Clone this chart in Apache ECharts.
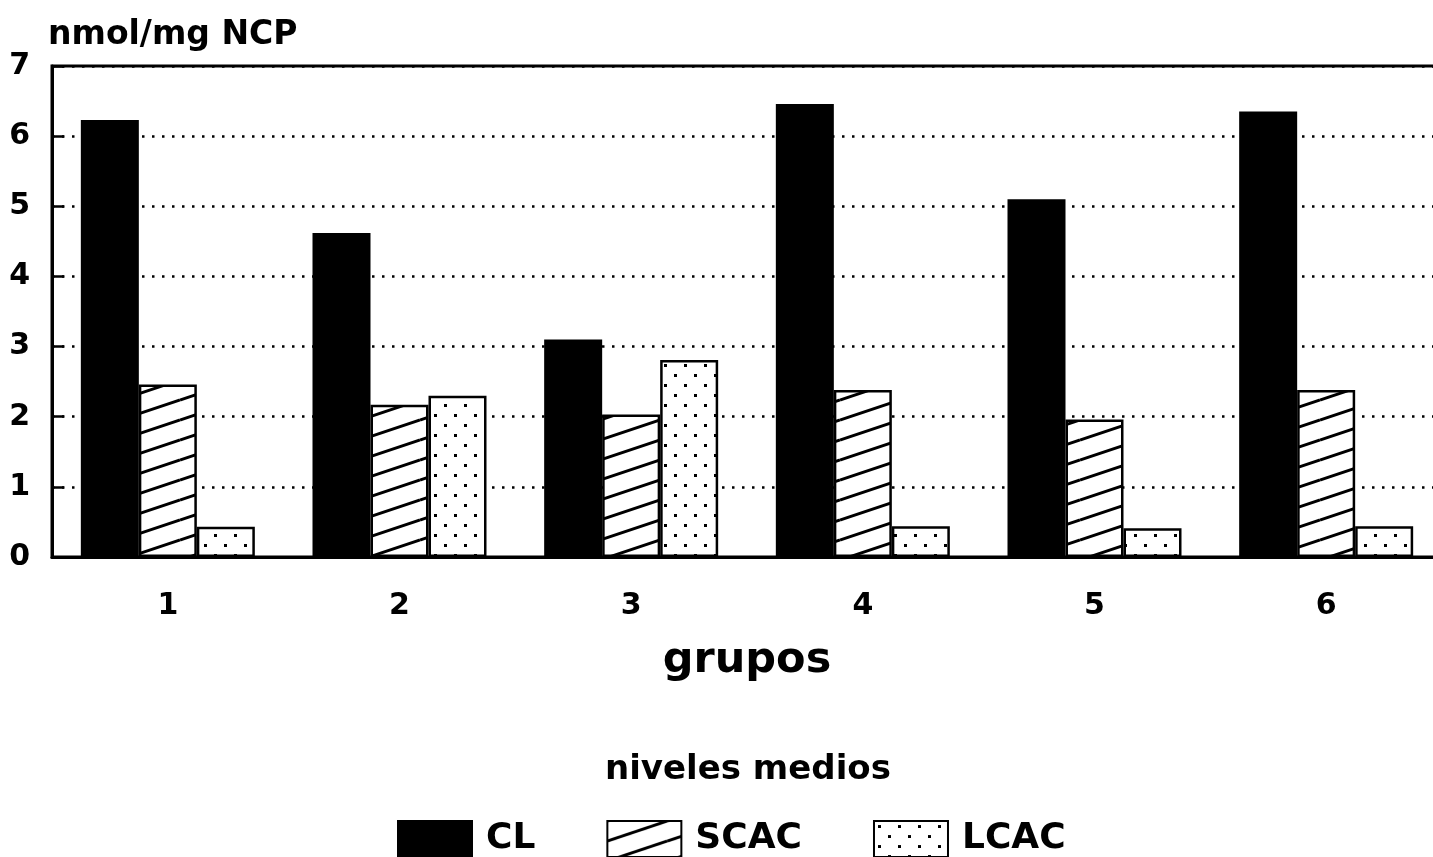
<!DOCTYPE html>
<html>
<head>
<meta charset="utf-8">
<title>niveles medios</title>
<script src="https://cdn.jsdelivr.net/npm/echarts@6.0.0/dist/echarts.min.js"></script>
<style>
  html, body { margin: 0; padding: 0; background: #fff; }
  #chart { width: 1433px; height: 857px; }
</style>
</head>
<body>
<div id="chart"></div>
<script>
const groups = ['1', '2', '3', '4', '5', '6'];
const seriesNames = ['CL', 'SCAC', 'LCAC'];
const clValues = [6.23, 4.62, 3.10, 6.46, 5.10, 6.35];
const scacValues = [2.46, 2.17, 2.03, 2.38, 1.96, 2.38];
const lcacValues = [0.43, 2.30, 2.81, 0.44, 0.41, 0.44];
const yTicks = [0, 1, 2, 3, 4, 5, 6, 7];

const fontFamily = 'DejaVu Sans';

function makeHatchPattern() {
  const canvas = document.createElement('canvas');
  canvas.width = 60;
  canvas.height = 20;
  const ctx = canvas.getContext('2d');
  ctx.fillStyle = '#fff';
  ctx.fillRect(0, 0, 60, 20);
  ctx.strokeStyle = '#000';
  ctx.lineWidth = 3;
  // diagonal rising to the right, repeated above and below so the tile joins up
  [-20, 0, 20].forEach((dy) => {
    ctx.beginPath();
    ctx.moveTo(0, 20 + dy);
    ctx.lineTo(60, dy);
    ctx.stroke();
  });
  return canvas;
}

function makeDotPattern() {
  const canvas = document.createElement('canvas');
  canvas.width = 20;
  canvas.height = 20;
  const ctx = canvas.getContext('2d');
  ctx.fillStyle = '#fff';
  ctx.fillRect(0, 0, 20, 20);
  ctx.fillStyle = '#000';
  ctx.fillRect(4, 4, 3, 3);
  ctx.fillRect(14, 14, 3, 3);
  return canvas;
}

function makeBarSeries(name, values, fill) {
  return {
    name: name,
    type: 'bar',
    data: values,
    barWidth: 58,
    barGap: '0%',
    itemStyle: {
      color: fill,
      borderColor: '#000',
      borderWidth: 2.5
    },
    emphasis: { disabled: true }
  };
}

const chart = echarts.init(document.getElementById('chart'));

const option = {
  backgroundColor: '#fff',
  animation: false,
  title: {
    text: 'niveles medios',
    left: 600,
    top: 748,
    textStyle: {
      fontFamily: fontFamily,
      fontWeight: 'bold',
      fontSize: 34,
      color: '#000'
    }
  },
  legend: {
    data: seriesNames.map((name) => ({ name: name, icon: 'rect' })),
    left: 392,
    top: 815,
    itemWidth: 74,
    itemHeight: 36,
    itemGap: 71,
    selectedMode: false,
    textStyle: {
      fontFamily: fontFamily,
      fontWeight: 'bold',
      fontSize: 36,
      color: '#000',
      padding: [0, 0, 0, 9]
    }
  },
  grid: {
    left: 52,
    top: 66,
    width: 1390,
    height: 491,
    containLabel: false,
    outerBoundsMode: 'none',
    show: true,
    borderColor: '#000',
    borderWidth: 3
  },
  xAxis: {
    type: 'category',
    data: groups,
    z: 5,
    name: 'grupos',
    nameLocation: 'middle',
    nameGap: 82,
    nameTextStyle: {
      fontFamily: fontFamily,
      fontWeight: 'bold',
      fontSize: 43,
      color: '#000'
    },
    axisLine: { lineStyle: { color: '#000', width: 3 } },
    axisTick: {
      inside: true,
      alignWithLabel: true,
      length: 17,
      lineStyle: { color: '#000', width: 2.5 }
    },
    axisLabel: {
      margin: 34,
      fontFamily: fontFamily,
      fontWeight: 'bold',
      fontSize: 30,
      color: '#000'
    },
    splitLine: { show: false }
  },
  yAxis: {
    type: 'value',
    min: yTicks[0],
    max: yTicks[yTicks.length - 1],
    interval: 1,
    name: 'nmol/mg NCP',
    nameLocation: 'end',
    nameGap: 14,
    nameTextStyle: {
      fontFamily: fontFamily,
      fontWeight: 'bold',
      fontSize: 33,
      color: '#000',
      align: 'left',
      padding: [0, 0, 0, -4]
    },
    axisLine: { show: true, lineStyle: { color: '#000', width: 3 } },
    axisTick: {
      show: true,
      inside: true,
      length: 12,
      lineStyle: { color: '#000', width: 2.5 }
    },
    axisLabel: {
      margin: 22,
      fontFamily: fontFamily,
      fontWeight: 'bold',
      fontSize: 30,
      color: '#000'
    },
    splitLine: {
      show: true,
      lineStyle: { color: '#000', width: 2.5, type: [2.5, 7.5] }
    }
  },
  series: [
    makeBarSeries('CL', clValues, '#000'),
    makeBarSeries('SCAC', scacValues, { image: makeHatchPattern(), repeat: 'repeat' }),
    makeBarSeries('LCAC', lcacValues, { image: makeDotPattern(), repeat: 'repeat' })
  ]
};

chart.setOption(option);
</script>
</body>
</html>
